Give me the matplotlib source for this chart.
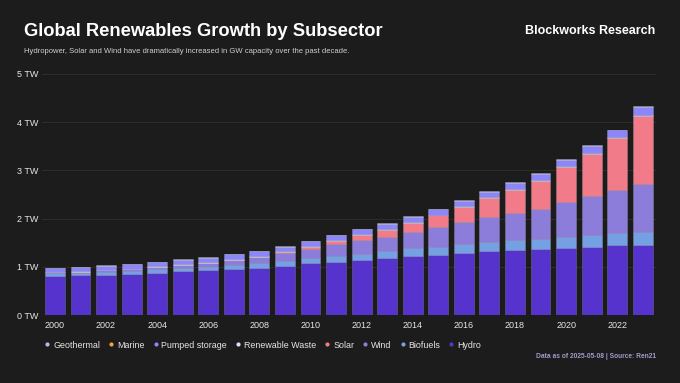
import numpy as np
import matplotlib
matplotlib.use("Agg")
import matplotlib.pyplot as plt
from matplotlib.lines import Line2D

plt.rcParams['font.family'] = ['Liberation Sans', 'DejaVu Sans']

years = list(range(2000, 2024))

# capacity in GW
hydro = [815, 823, 837, 850, 878, 906, 927, 961, 982, 1023, 1072, 1107,
         1141, 1180, 1224, 1251, 1293, 1328, 1345, 1360, 1383, 1418, 1446, 1452]
biofuels = [50, 53, 57, 62, 67, 72, 78, 85, 92, 100, 108, 120,
            133, 150, 158, 168, 185, 192, 207, 225, 232, 245, 260, 270]
wind = [17, 24, 31, 39, 48, 59, 74, 94, 121, 159, 198, 238,
        283, 295, 345, 414, 460, 507, 556, 612, 738, 812, 888, 998]
solar = [1, 1, 2, 3, 4, 5, 7, 9, 16, 24, 41, 73,
         104, 145, 183, 232, 301, 398, 492, 587, 713, 871, 1070, 1413]
waste = [8, 8, 9, 9, 10, 10, 11, 11, 12, 12, 13, 14,
         15, 15, 16, 16, 17, 18, 19, 20, 21, 22, 23, 24]
pumped = [82, 86, 88, 90, 90, 92, 94, 96, 98, 99, 100, 102,
          104, 107, 109, 111, 113, 115, 118, 128, 132, 136, 142, 160]
marine = [0.3, 0.3, 0.3, 0.3, 0.3, 0.3, 0.3, 0.3, 0.3, 0.3, 0.3, 0.5,
          0.5, 0.5, 0.5, 0.5, 0.5, 0.5, 0.5, 0.5, 0.5, 0.5, 0.5, 0.5]
geothermal = [8, 8, 8, 9, 9, 9, 9, 10, 10, 10, 10, 11,
              11, 11, 12, 12, 13, 13, 13, 14, 14, 15, 15, 15]

# bottom -> top
series = [
    ("Hydro", hydro, "#5533cc"),
    ("Biofuels", biofuels, "#76a0e4"),
    ("Wind", wind, "#8d7ddb"),
    ("Solar", solar, "#f27b89"),
    ("Renewable Waste", waste, "#e2dcf5"),
    ("Pumped storage", pumped, "#8c86fc"),
    ("Marine", marine, "#f2a33a"),
    ("Geothermal", geothermal, "#bdb7ea"),
]
legend_order = ["Geothermal", "Marine", "Pumped storage", "Renewable Waste",
                "Solar", "Wind", "Biofuels", "Hydro"]

bg = "#1c1c1c"
fig = plt.figure(figsize=(6.8, 3.83), dpi=100, facecolor=bg)
ax = fig.add_axes([0.062, 0.1775, 0.902, 0.6295], facecolor=bg)

x = np.arange(len(years))
bottom = np.zeros(len(years))
for name, vals, col in series:
    v = np.array(vals) / 1000.0
    ax.bar(x, v, 0.78, bottom=bottom, color=col, edgecolor=(1, 1, 1, 0.2),
           linewidth=0.5, zorder=3)
    bottom += v

ax.set_xlim(-0.5, len(years) - 0.5)
ax.set_ylim(0, 5)
ax.set_yticks(range(6))
ax.set_yticklabels([f"{i} TW" for i in range(6)])
ax.set_xticks(x[::2])
ax.set_xticklabels([str(y) for y in years[::2]])
ax.tick_params(axis='both', length=0, colors="#e6e6e6", labelsize=6.5)
ax.tick_params(axis='x', pad=4)
ax.tick_params(axis='y', pad=3)
for s in ax.spines.values():
    s.set_visible(False)
ax.grid(axis='y', color="#2c2c2c", linewidth=0.8, zorder=0)

fig.text(0.035, 0.918, "Global Renewables Growth by Subsector", color="white",
         fontsize=13.2, fontweight="bold", va="center", ha="left")
fig.text(0.035, 0.866, "Hydropower, Solar and Wind have dramatically increased in GW capacity over the past decade.",
         color="#cfcfcf", fontsize=5.5, va="center", ha="left")
fig.text(0.964, 0.918, "Blockworks Research", color="white", fontsize=9,
         fontweight="bold", va="center", ha="right")
fig.text(0.964, 0.068, "Data as of 2025-05-08 | Source: Ren21", color="#a09cc8",
         fontsize=4.8, fontweight="bold", va="center", ha="right")

colors = {n: c for n, _, c in series}
handles = [Line2D([], [], marker='o', linestyle='none', markersize=3.0,
                  markerfacecolor=colors[n], markeredgecolor='none')
           for n in legend_order]
leg = fig.legend(handles, legend_order, loc='center left',
                 bbox_to_anchor=(0.058, 0.099), ncol=8, frameon=False,
                 fontsize=6.4, handletextpad=0.15, columnspacing=0.75,
                 handlelength=1.0, borderaxespad=0)
for t in leg.get_texts():
    t.set_color("#e6e6e6")

fig.savefig("out.png", dpi=100, facecolor=bg)
